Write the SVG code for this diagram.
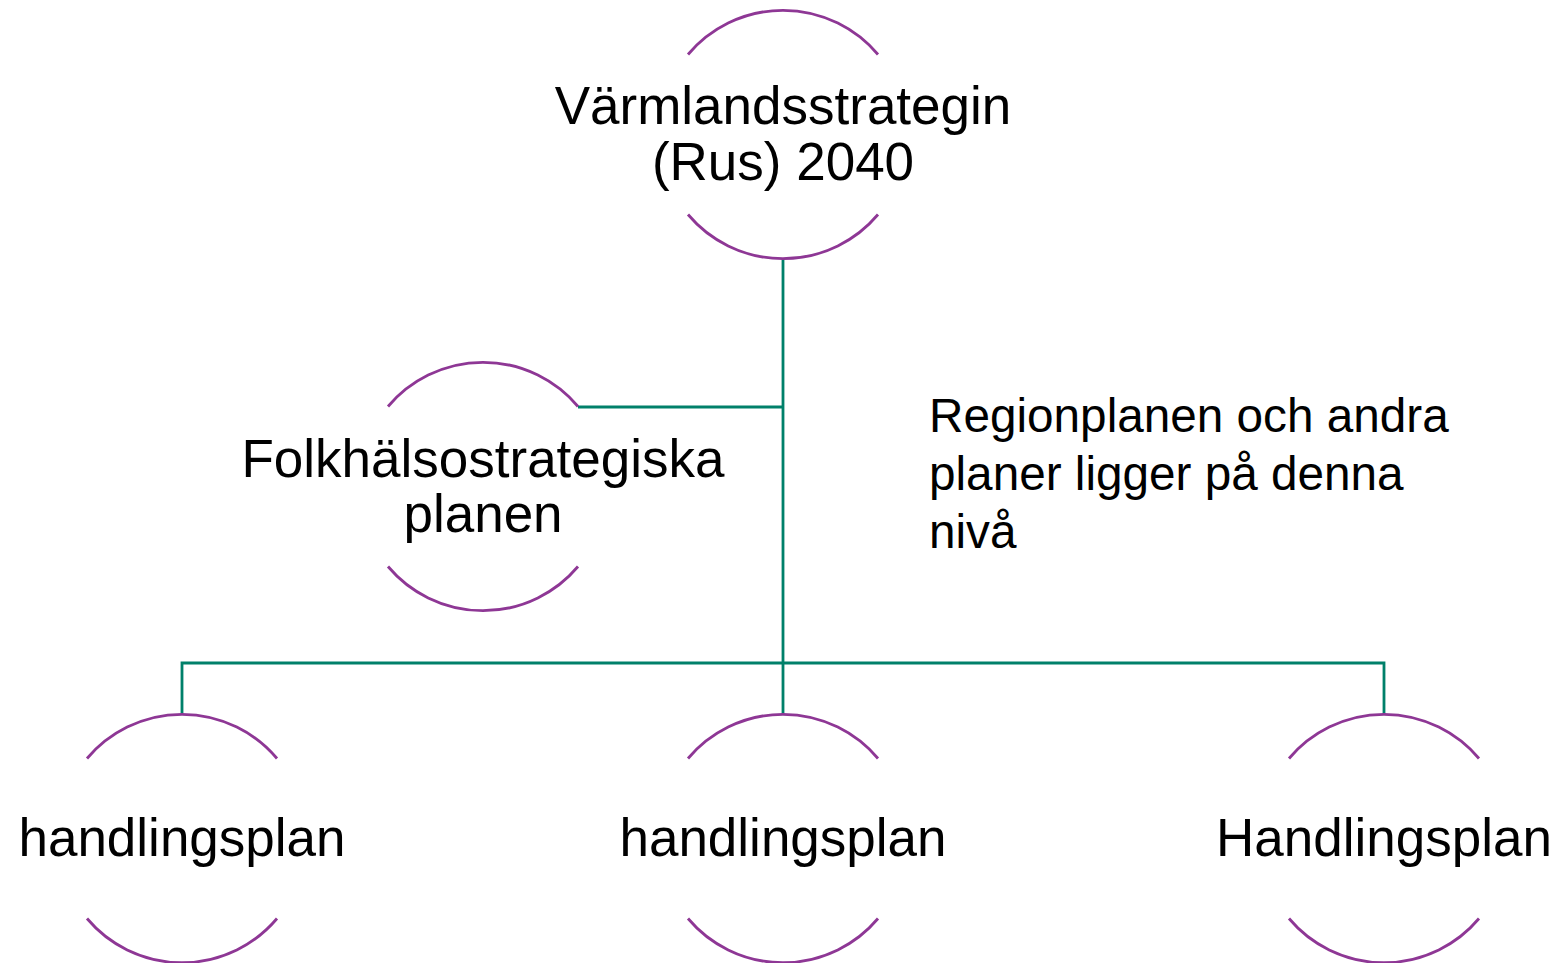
<svg xmlns="http://www.w3.org/2000/svg" width="1560" height="963" viewBox="0 0 1560 963">
<style>
.arc{fill:none;stroke:#8E3795;stroke-width:2.8}
.con{fill:none;stroke:#00806A;stroke-width:2.8}
.t{font-family:"Liberation Sans",Arial,sans-serif;font-size:53px;fill:#000;text-anchor:middle}
.r{font-family:"Liberation Sans",Arial,sans-serif;font-size:47.7px;fill:#000}
</style>
<rect width="1560" height="963" fill="#fff"/>
<g id="connectors">
<path class="con" d="M783,259 V663"/>
<path class="con" d="M578,407 H783"/>
<path class="con" d="M182,715 V663 H1384 V715"/>
<path class="con" d="M783,663 V715"/>
</g>
<g id="node-top">
<path class="arc" d="M688,54.5 A124.2,124.2 0 0 1 878,54.5"/>
<path class="arc" d="M688,214.5 A124.2,124.2 0 0 0 878,214.5"/>
<text class="t" x="783" y="124">Värmlandsstrategin</text>
<text class="t" x="783" y="180">(Rus) 2040</text>
</g>
<g id="node-folk">
<path class="arc" d="M388,406.5 A124.2,124.2 0 0 1 578,406.5"/>
<path class="arc" d="M388,566.5 A124.2,124.2 0 0 0 578,566.5"/>
<text class="t" x="483" y="477">Folkhälsostrategiska</text>
<text class="t" x="483" y="532">planen</text>
</g>
<g id="note">
<text class="r" x="929" y="432">Regionplanen och andra</text>
<text class="r" x="929" y="490">planer ligger på denna</text>
<text class="r" x="929" y="548">nivå</text>
</g>
<g id="node-h1">
<path class="arc" d="M87,758.5 A124.2,124.2 0 0 1 277,758.5"/>
<path class="arc" d="M87,918.5 A124.2,124.2 0 0 0 277,918.5"/>
<text class="t" x="182" y="856">handlingsplan</text>
</g>
<g id="node-h2">
<path class="arc" d="M688,758.5 A124.2,124.2 0 0 1 878,758.5"/>
<path class="arc" d="M688,918.5 A124.2,124.2 0 0 0 878,918.5"/>
<text class="t" x="783" y="856">handlingsplan</text>
</g>
<g id="node-h3">
<path class="arc" d="M1289,758.5 A124.2,124.2 0 0 1 1479,758.5"/>
<path class="arc" d="M1289,918.5 A124.2,124.2 0 0 0 1479,918.5"/>
<text class="t" x="1384" y="856">Handlingsplan</text>
</g>
</svg>
